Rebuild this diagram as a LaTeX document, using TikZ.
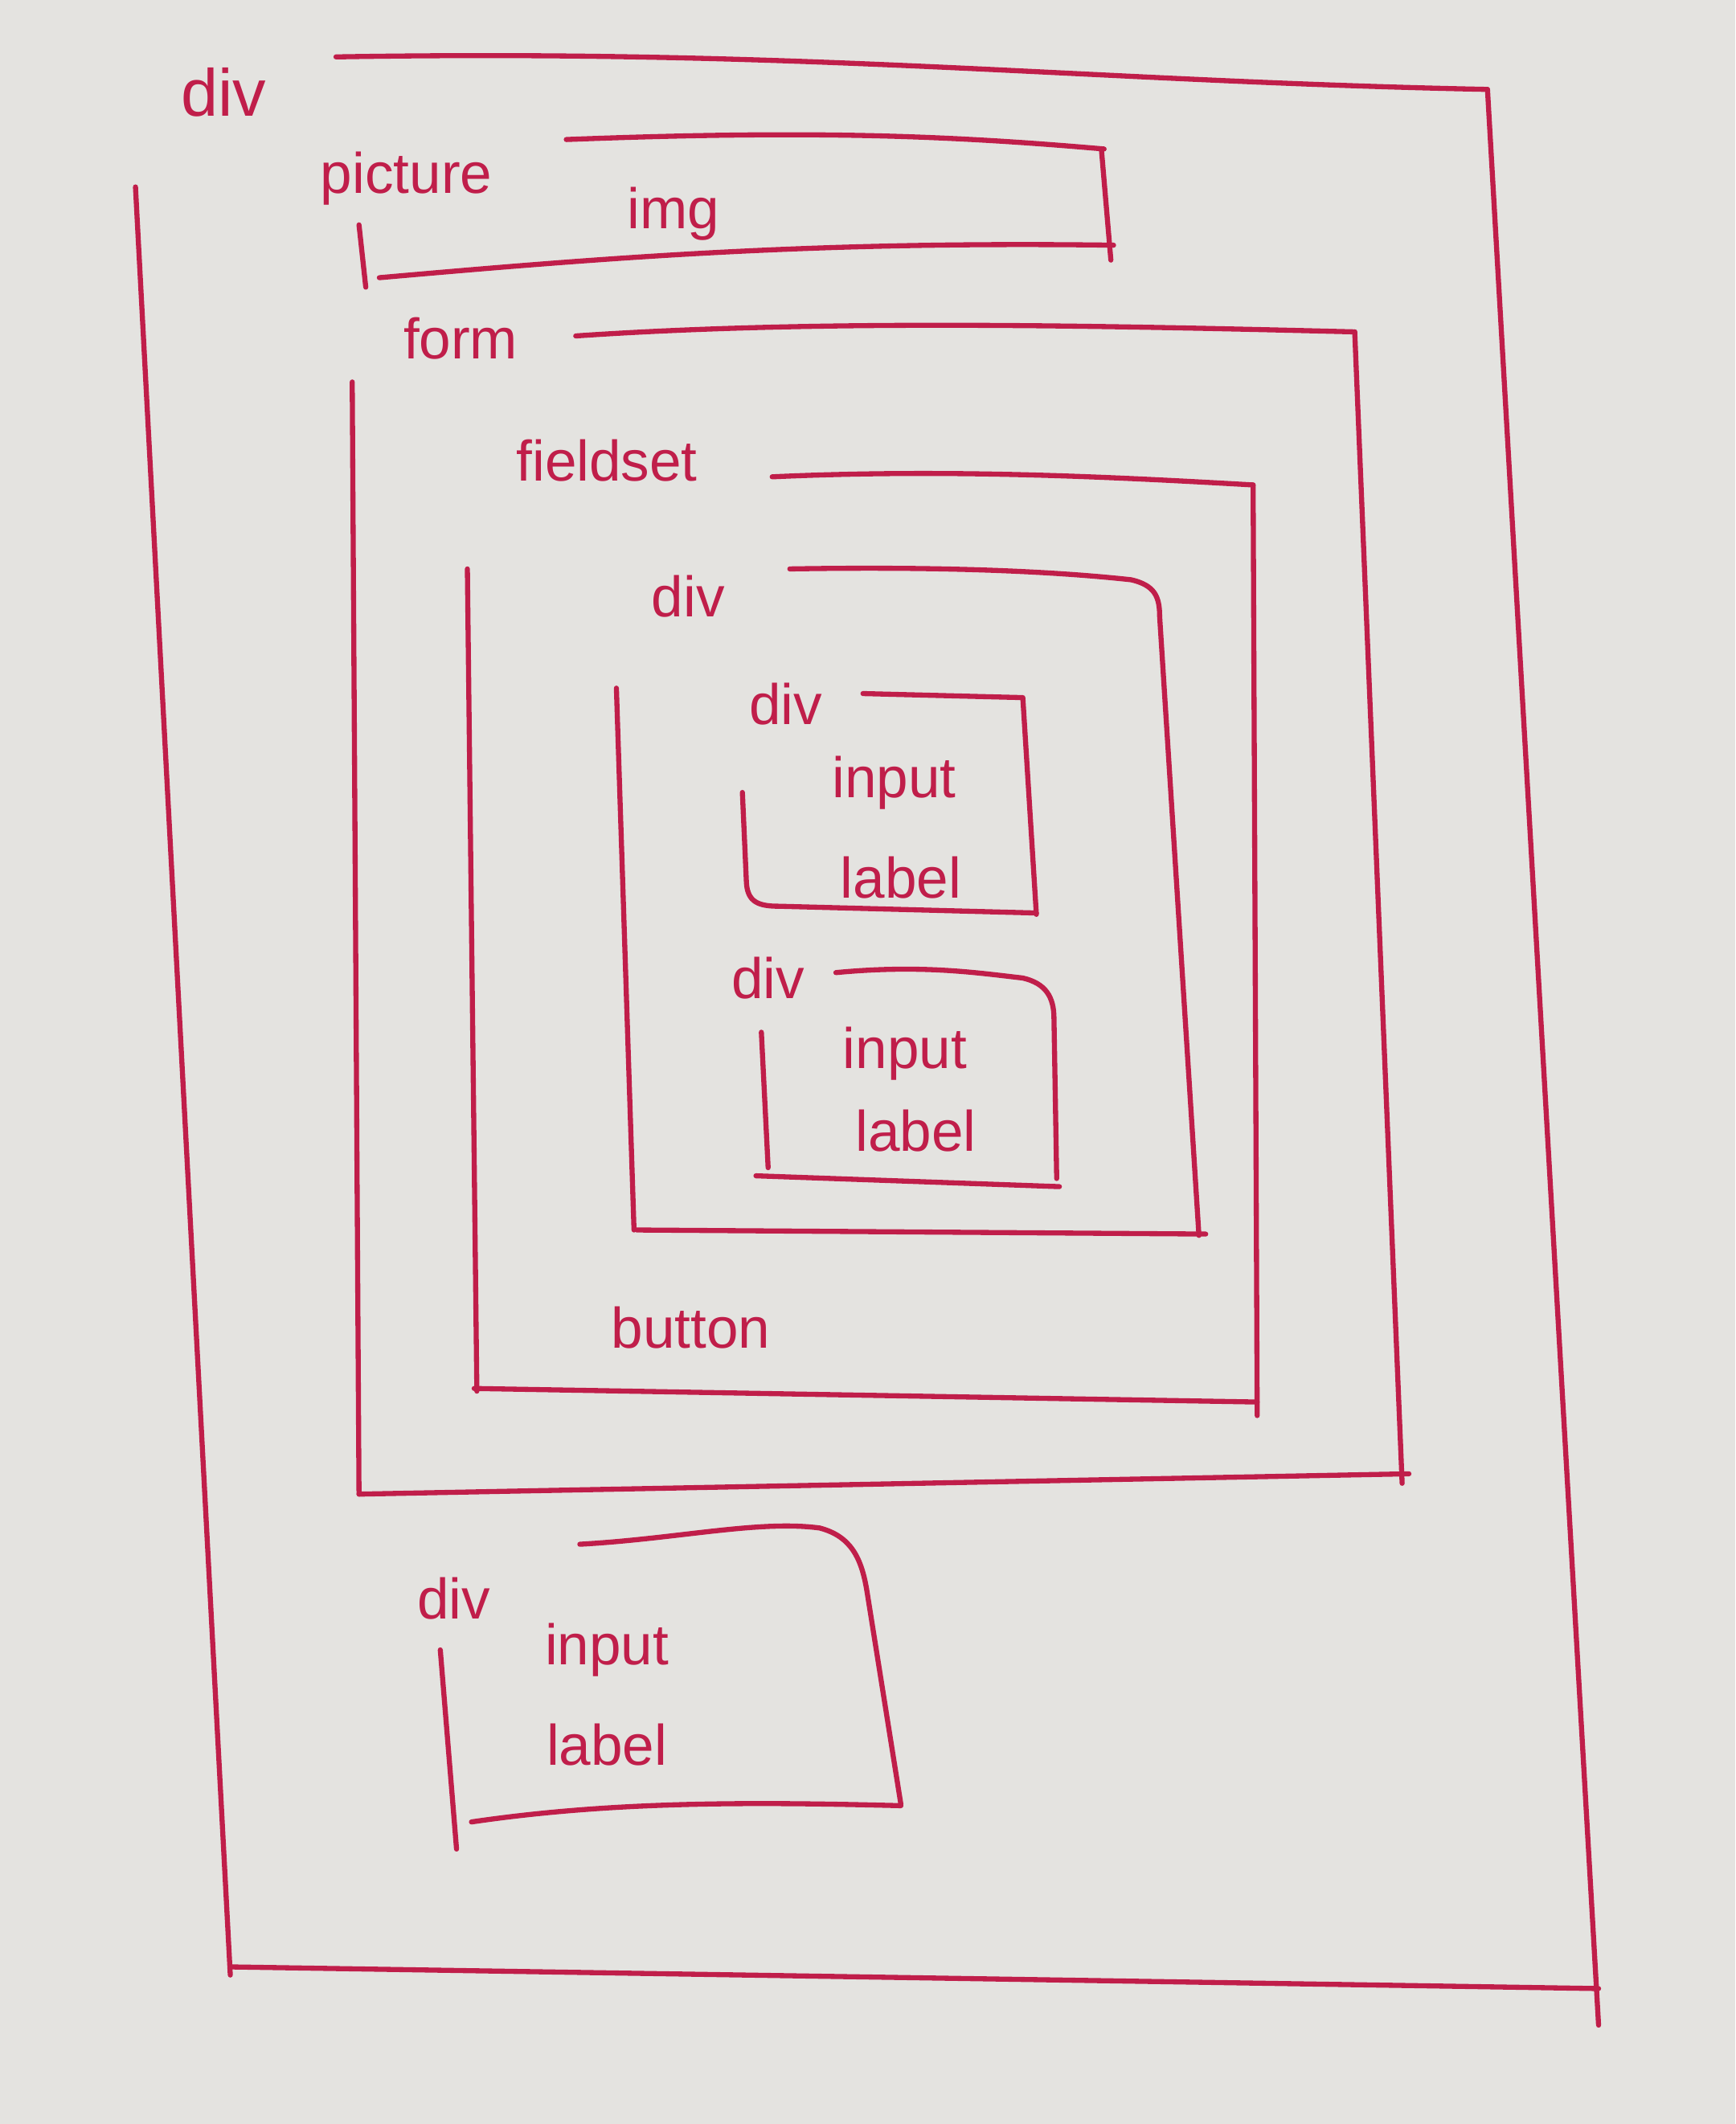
\documentclass[tikz,border=0pt]{standalone}
\usepackage{fontspec}
\setmainfont{Liberation Sans}
\definecolor{paper}{HTML}{E4E3E0}
\definecolor{ink}{HTML}{C01E4A}
\tikzset{
  pen/.style={draw=ink, line width=1.6pt, line cap=round, line join=round},
  tag/.style={text=ink, font=\fontsize{18}{20}\selectfont, inner sep=0pt, anchor=center},
  bigtag/.style={tag, font=\fontsize{21}{24}\selectfont}
}
\begin{document}
\begin{tikzpicture}[x=0.015cm, y=-0.015cm]
\fill[paper] (0,0) rectangle (1281,1568);
\useasboundingbox (0,0) rectangle (1281,1568);

% outer div
\draw[pen] (248,42) .. controls (600,36) and (800,60) .. (1098,66);
\draw[pen] (1098,66) -- (1180,1495);
\draw[pen] (100,138) -- (170,1458);
\draw[pen] (170,1452) -- (1180,1468);
\node[bigtag] (d0) at (165,68) {div};

% picture
\draw[pen] (418,103) .. controls (600,96) and (700,100) .. (815,110);
\draw[pen] (813,110) -- (820,192);
\draw[pen] (280,205) .. controls (450,190) and (600,178) .. (822,181);
\draw[pen] (265,166) -- (270,212);
\node[tag] (pic) at (300,132) {picture};
\node[tag] (img) at (497,158) {img};

% form
\draw[pen] (425,248) .. controls (600,236) and (800,240) .. (1000,245);
\draw[pen] (1000,245) -- (1035,1095);
\draw[pen] (265,1103) -- (1040,1088);
\draw[pen] (260,282) -- (265,1103);
\node[tag] (form) at (340,250) {form};

% fieldset
\draw[pen] (570,352) .. controls (700,346) and (820,352) .. (925,358);
\draw[pen] (925,358) -- (928,1045);
\draw[pen] (350,1025) -- (928,1035);
\draw[pen] (345,420) -- (352,1027);
\node[tag] (fs) at (448,340) {fieldset};

% inner div
\draw[pen] (583,420) .. controls (700,418) and (780,422) .. (835,428)
  .. controls (852,432) and (856,440) .. (856,455) -- (885,912);
\draw[pen] (470,908) -- (890,911);
\draw[pen] (455,508) -- (468,908);
\node[tag] (d1) at (508,440) {div};

% div a
\draw[pen] (637,512) -- (755,515) -- (765,675);
\draw[pen] (548,585) -- (551,652) .. controls (552,666) and (560,669) .. (575,669) -- (765,674);
\node[tag] (d2) at (580,520) {div};
\node[tag] (in2) at (660,578) {input};
\node[tag] (lb2) at (665,648) {label};

% div b
\draw[pen] (617,718) .. controls (680,712) and (720,718) .. (755,722)
  .. controls (772,726) and (778,736) .. (778,752) -- (780,870);
\draw[pen] (558,868) -- (782,876);
\draw[pen] (562,762) -- (567,862);
\node[tag] (d3) at (567,722) {div};
\node[tag] (in3) at (668,778) {input};
\node[tag] (lb3) at (676,835) {label};

% button
\node[tag] (btn) at (510,980) {button};

% bottom div
\draw[pen] (428,1140) .. controls (500,1136) and (560,1122) .. (605,1128)
  .. controls (628,1134) and (636,1150) .. (640,1175) -- (665,1332);
\draw[pen] (348,1345) .. controls (450,1330) and (550,1330) .. (665,1333);
\draw[pen] (325,1218) -- (337,1365);
\node[tag] (d4) at (335,1180) {div};
\node[tag] (in4) at (448,1218) {input};
\node[tag] (lb4) at (448,1288) {label};
\end{tikzpicture}
\end{document}
